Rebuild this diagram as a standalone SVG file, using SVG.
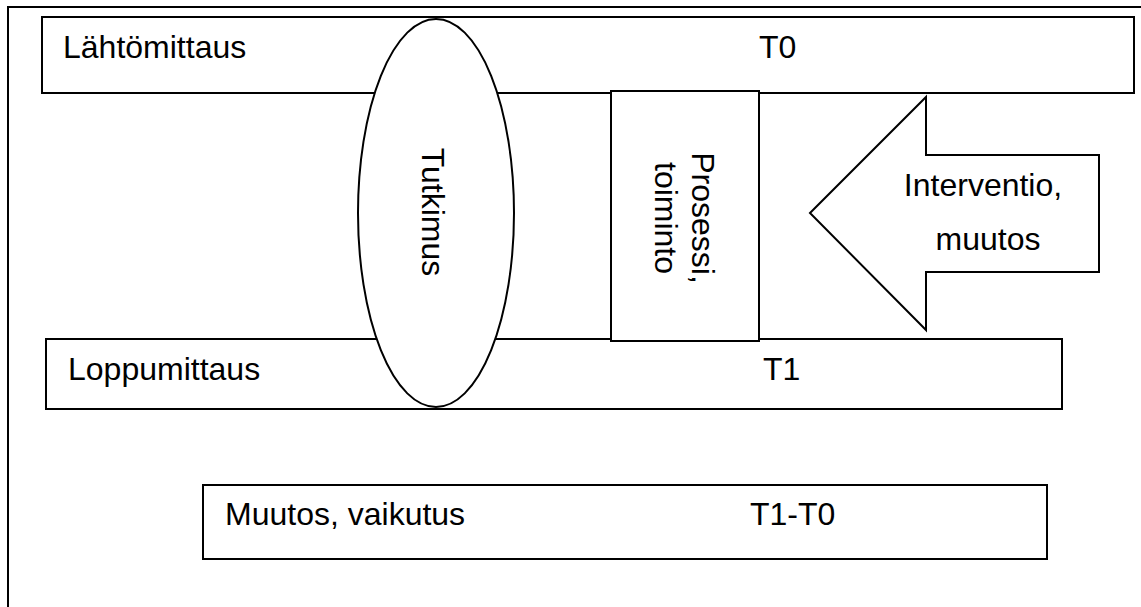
<svg xmlns="http://www.w3.org/2000/svg" width="1141" height="607" viewBox="0 0 1141 607">
<style>
.s{fill:#fff;stroke:#000;stroke-width:2}
.t{font-family:"Liberation Sans",Arial,sans-serif;font-size:32px;fill:#000}
.m{text-anchor:middle}
</style>
<rect width="1141" height="607" fill="#fff"/>
<rect id="frame" x="8" y="7" width="1200" height="700" fill="none" stroke="#000" stroke-width="2"/>
<g id="lahtomittaus">
<rect class="s" x="42" y="17" width="1092" height="76"/>
<text class="t" x="63" y="58">Lähtömittaus</text>
<text class="t" x="759" y="58">T0</text>
</g>
<g id="loppumittaus">
<rect class="s" x="46" y="339" width="1016" height="70"/>
<text class="t" x="68" y="380">Loppumittaus</text>
<text class="t" x="763" y="380">T1</text>
</g>
<g id="muutos">
<rect class="s" x="203" y="485" width="844" height="74"/>
<text class="t" x="225" y="525">Muutos, vaikutus</text>
<text class="t" x="750" y="525">T1-T0</text>
</g>
<g id="tutkimus">
<ellipse class="s" cx="436" cy="213" rx="78" ry="194"/>
<text class="t m" transform="translate(422,212) rotate(90)">Tutkimus</text>
</g>
<g id="prosessi">
<rect class="s" x="611" y="91" width="148" height="250"/>
<text class="t m" transform="translate(692,218) rotate(90)">Prosessi,</text>
<text class="t m" transform="translate(655,218) rotate(90)">toiminto</text>
</g>
<g id="interventio">
<polygon class="s" points="810,213 926,97 926,155 1099,155 1099,272 926,272 926,330"/>
<text class="t m" x="983" y="196">Interventio,</text>
<text class="t m" x="988" y="250">muutos</text>
</g>
<g id="connectors"></g>
</svg>
